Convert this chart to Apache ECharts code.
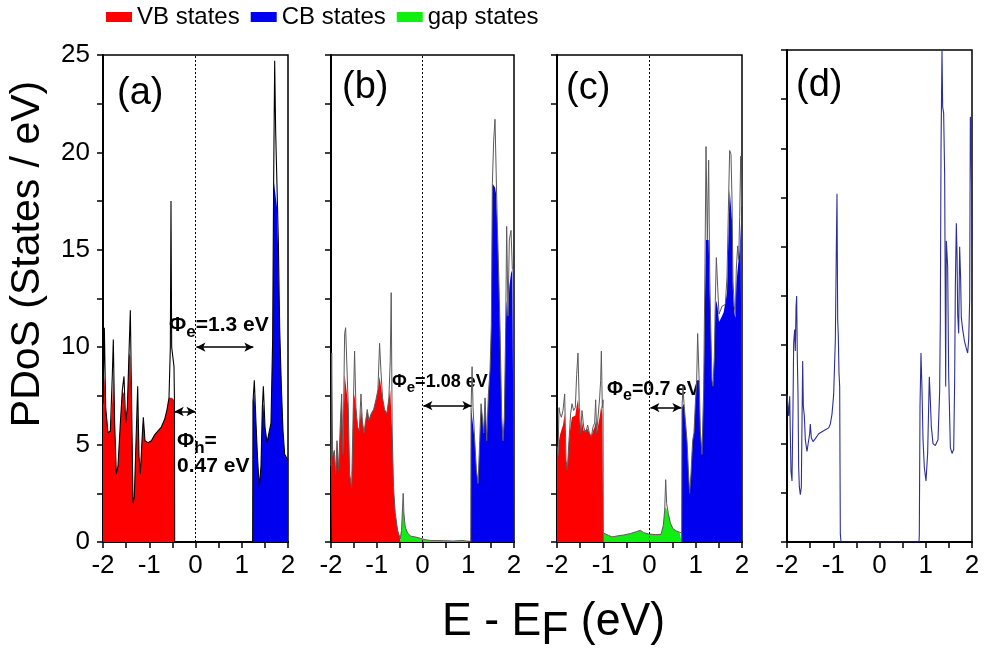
<!DOCTYPE html>
<html><head><meta charset="utf-8">
<script src="https://cdn.jsdelivr.net/npm/echarts@6/dist/echarts.min.js"></script>
<style>html,body{margin:0;padding:0;background:#fff}#c{width:984px;height:650px}</style>
</head><body><div id="c"></div>
<script>
// ---------- data (E in eV, PDoS in states/eV) ----------
const xTicks = [-2, -1, 0, 1, 2];
const yTicks = [0, 5, 10, 15, 20, 25];
const legendNames = ['VB states', 'CB states', 'gap states'];
const panelNames = ['(a)', '(b)', '(c)', '(d)'];

// panel (a)
const aVbE = [-2.000,-1.971,-1.942,-1.892,-1.841,-1.798,-1.777,-1.748,-1.712,-1.676,-1.625,-1.582,-1.546,-1.510,-1.474,-1.438,-1.409,-1.380,-1.351,-1.323,-1.286,-1.250,-1.222,-1.193,-1.157,-1.128,-1.092,-1.027,-0.955,-0.883,-0.811,-0.739,-0.667,-0.616,-0.573,-0.544,-0.530,-0.515,-0.490,-0.465,-0.455,-0.450];
const aVbTot = [7.1,11.0,6.9,5.6,5.7,8.6,10.4,6.1,3.5,3.9,6.1,7.8,8.5,6.1,6.9,9.7,11.9,6.9,2.0,2.3,5.2,8.0,4.4,3.5,5.2,6.4,5.2,5.1,5.2,5.5,5.7,5.9,6.3,6.8,7.4,10.0,17.5,10.0,10.0,9.0,7.3,0];
const aVbFill = [7.1,8.6,6.9,5.6,5.7,7.3,8.6,6.1,3.5,3.9,6.1,7.8,7.6,6.1,6.9,9.7,9.5,6.9,2.0,2.3,5.2,6.9,4.4,3.5,5.2,6.4,5.2,5.1,5.2,5.5,5.7,5.9,6.3,6.8,7.4,7.4,7.4,7.4,7.3,7.3,7.3,0];
const aCbE = [1.236,1.243,1.272,1.308,1.344,1.380,1.416,1.445,1.467,1.503,1.546,1.589,1.632,1.668,1.690,1.712,1.733,1.762,1.791,1.820,1.856,1.892,1.928,1.964,2.0];
const aCbTot = [0,7.2,8.3,6.1,4.2,2.8,3.9,6.9,8.0,5.9,5.1,5.2,6.1,10.4,18.6,24.7,21.1,21.1,15.5,11.0,8.0,5.7,4.5,4.4,4.2];
const aCbFill = [0,7.2,7.6,6.1,4.2,2.8,3.9,6.9,7.1,5.9,5.1,5.2,6.1,10.4,18.6,18.6,18.6,17.2,14.6,11.0,8.0,5.7,4.5,4.4,4.2];

// panel (b)
const bVbE = [-2.0,-1.985,-1.964,-1.927,-1.898,-1.869,-1.833,-1.796,-1.767,-1.738,-1.702,-1.680,-1.651,-1.622,-1.593,-1.549,-1.513,-1.484,-1.455,-1.418,-1.382,-1.345,-1.316,-1.280,-1.244,-1.207,-1.171,-1.120,-1.069,-1.018,-0.975,-0.938,-0.909,-0.873,-0.829,-0.778,-0.735,-0.705,-0.684,-0.662,-0.633,-0.596,-0.545,-0.487];
const bVbTot = [3.9,9.7,4.4,4.7,3.5,5.2,3.7,6.1,7.6,4.5,10.7,11.0,10.9,6.9,3.5,2.8,6.9,9.8,6.9,5.9,5.7,7.6,6.25,5.6,5.6,6.8,6.25,6.6,6.8,7.3,7.8,10.2,8.8,7.4,6.8,6.6,7.4,9.3,12.8,5.6,2.8,1.5,0.6,0.17];
const bVbFill = [3.9,6.9,4.4,4.7,3.5,5.2,3.7,6.1,7.6,4.5,8.6,8.6,7.6,6.9,3.5,2.8,6.9,7.6,6.9,5.9,5.7,6.9,6.25,5.6,5.6,6.8,6.25,6.6,6.8,7.3,7.8,8.5,8.5,7.4,6.8,6.6,7.4,7.8,7.8,5.6,2.8,1.5,0.6,0.17];
const bGapE = [-0.487,-0.458,-0.436,-0.422,-0.407,-0.378,-0.327,-0.255,-0.160,-0.051,0.058,0.167,0.458,0.676,0.858,0.967,1.04];
const bGapTot = [0.17,0.6,1.8,2.5,1.5,0.77,0.46,0.3,0.26,0.19,0.12,0.08,0.07,0.05,0.08,0.05,0.03];
const bGapFill = [0.17,0.6,1.8,1.8,1.5,0.77,0.46,0.3,0.26,0.19,0.12,0.08,0.07,0.05,0.08,0.05,0.03];
const bCbE = [1.055,1.062,1.084,1.105,1.142,1.178,1.215,1.251,1.280,1.309,1.338,1.367,1.404,1.440,1.476,1.505,1.527,1.556,1.585,1.607,1.636,1.665,1.695,1.731,1.760,1.789,1.818,1.840,1.869,1.898,1.935,1.964,2.0];
const bCbTot = [0,6.9,9.0,6.9,5.2,3.7,3.0,5.2,7.1,6.4,5.6,7.4,5.2,7.6,8.8,11.2,18.4,20.6,21.7,19.3,16.2,13.8,10.9,6.4,5.2,6.4,11.0,16.2,11.6,15.5,16.0,14.0,14.0];
const bCbFill = [0,6.9,6.9,6.9,5.2,3.7,3.0,5.2,7.1,6.4,5.6,7.4,5.2,7.6,8.8,11.2,18.4,18.4,18.2,17.9,16.2,13.8,10.9,6.4,5.2,6.4,11.0,12.4,11.6,13.1,13.8,14.0,14.0];

// panel (c)
const cVbE = [-2.0,-1.978,-1.957,-1.935,-1.906,-1.870,-1.834,-1.805,-1.777,-1.741,-1.705,-1.676,-1.640,-1.604,-1.575,-1.546,-1.517,-1.488,-1.459,-1.423,-1.380,-1.337,-1.301,-1.258,-1.222,-1.186,-1.164,-1.142,-1.106,-1.078,-1.056,-1.041,-1.020,-1.005,-0.998];
const cVbTot = [4.9,4.4,6.9,6.6,6.4,6.75,7.6,4.2,3.7,5.2,6.6,7.1,6.75,6.9,8.6,9.7,6.9,5.6,6.75,5.9,5.6,6.0,5.6,5.4,5.9,6.1,7.3,5.6,5.7,7.4,8.3,9.8,6.9,7.3,0];
const cVbFill = [4.9,4.4,5.2,5.5,5.6,6.0,6.6,4.2,3.7,5.2,6.0,6.4,6.4,6.5,7.0,7.3,6.5,5.6,6.2,5.7,5.6,5.8,5.6,5.4,5.7,5.9,6.2,5.6,5.7,6.4,6.8,7.0,6.5,6.5,0];
const cGapE = [-0.998,-0.955,-0.883,-0.811,-0.703,-0.559,-0.414,-0.285,-0.198,-0.126,-0.018,0.126,0.249,0.299,0.328,0.350,0.371,0.407,0.450,0.508,0.580,0.652,0.695];
const cGapTot = [0.46,0.51,0.34,0.26,0.31,0.36,0.43,0.53,0.6,0.48,0.41,0.38,0.39,0.86,1.63,3.2,1.97,1.46,0.98,0.68,0.57,0.5,0.46];
const cGapFill = [0.46,0.51,0.34,0.26,0.31,0.36,0.43,0.53,0.6,0.48,0.41,0.38,0.39,0.86,1.63,1.8,1.8,1.46,0.98,0.68,0.57,0.5,0.46];
const cCbE = [0.695,0.703,0.724,0.746,0.775,0.811,0.840,0.868,0.897,0.933,0.962,0.991,1.020,1.041,1.070,1.099,1.135,1.171,1.200,1.222,1.250,1.279,1.301,1.330,1.351,1.373,1.402,1.423,1.445,1.474,1.503,1.532,1.568,1.604,1.640,1.676,1.704,1.733,1.762,1.784,1.805,1.834,1.856,1.877,1.906,1.928,1.950,1.971,1.993,2.0];
const cCbTot = [0,6.9,8.0,7.1,6.25,5.2,3.7,2.5,3.5,5.2,5.6,7.1,8.3,10.7,8.6,5.7,4.5,7.8,14.3,20.3,15.5,19.6,13.8,10.4,8.3,8.0,9.5,12.4,14.6,13.1,11.7,11.6,12.1,12.2,12.2,13.6,16.9,20.1,19.9,17.6,13.4,12.1,11.7,14.0,15.2,14.5,16.7,19.8,17.2,17.2];
const cCbFill = [0,6.9,6.9,7.1,6.25,5.2,3.7,2.5,3.5,5.2,5.6,7.1,8.3,8.3,8.3,5.7,4.5,7.8,12.5,15.5,15.5,15.5,13.0,10.4,8.3,8.0,9.5,12.0,12.4,12.0,11.3,11.3,11.6,11.8,11.8,12.8,15.5,18.1,18.1,16.5,12.8,11.8,11.5,13.2,14.0,14.0,15.0,16.4,16.4,16.4];

// panel (d)
const dE = [-2.0,-1.986,-1.964,-1.942,-1.928,-1.914,-1.892,-1.870,-1.856,-1.834,-1.820,-1.805,-1.791,-1.777,-1.762,-1.748,-1.733,-1.712,-1.690,-1.676,-1.661,-1.647,-1.625,-1.604,-1.568,-1.532,-1.510,-1.496,-1.474,-1.438,-1.387,-1.315,-1.243,-1.171,-1.099,-1.063,-1.027,-0.991,-0.955,-0.933,-0.919,-0.904,-0.890,-0.876,-0.861,-0.847,-0.832,0.854,0.861,0.876,0.897,0.919,0.941,0.969,1.005,1.041,1.077,1.099,1.121,1.157,1.207,1.265,1.301,1.315,1.330,1.351,1.366,1.387,1.409,1.431,1.445,1.474,1.495,1.532,1.568,1.604,1.625,1.640,1.661,1.676,1.690,1.712,1.733,1.755,1.769,1.798,1.834,1.870,1.906,1.928,1.950,1.964,1.978,2.0];
const dV = [7.5,7.5,6.4,7.4,5.5,3.6,3.1,6.9,10.1,10.8,9.7,11.9,12.5,9.4,7.5,3.8,2.8,2.4,2.8,6.0,9.2,6.9,6.4,5.2,4.6,4.5,5.5,6.0,5.3,5.1,5.25,5.5,5.6,5.7,5.8,6.0,6.5,7.5,10.25,15.0,17.7,11.3,10.4,8.6,7.9,0.4,0,0,0.4,6.9,9.6,7.7,5.2,3.8,3.1,4.5,8.4,7.2,5.85,5.0,4.9,5.2,7.7,11.3,19.9,25,22.1,21.8,18.6,7.9,15.3,14.0,8.6,4.8,4.5,4.7,8.2,13.0,16.2,14.7,11.6,10.6,15.0,13.3,11.4,10.8,10.25,9.9,9.6,10.25,12.3,21.6,21.3,15.3];

// gap arrows: [E start, E end, PDoS level]
const arrowsA = [[0.02, 1.25, 10.0], [-0.45, 0.0, 6.7]];
const arrowsB = [[0.02, 1.07, 7.0]];
const arrowsC = [[0.02, 0.69, 6.9]];

// ---------- chart ----------
const FR = "'Liberation Sans',Arial,sans-serif";
const RED = '#ff0000', BLUE = '#0000f0', GREEN = '#11ee11';

function zip(e, v) { const n = Math.min(e.length, v.length), o = []; for (let i = 0; i < n; i++) o.push([e[i], v[i]]); return o; }
function fillS(name, color, i, E, V, ml) {
  const s = { type: 'line', name, xAxisIndex: i, yAxisIndex: i, data: zip(E, V), showSymbol: false, symbol: 'none',
    itemStyle: { color }, lineStyle: { width: 0, color }, areaStyle: { color, opacity: 1 }, z: 2, silent: true };
  if (ml) s.markLine = ml;
  return s;
}
function lineS(i, E, V, color, w) {
  return { type: 'line', xAxisIndex: i, yAxisIndex: i, data: zip(E, V), showSymbol: false, symbol: 'none',
    lineStyle: { color, width: w }, itemStyle: { color }, z: 3, silent: true };
}
function zeroLine() {
  return { silent: true, symbol: ['none', 'none'], label: { show: false }, animation: false,
    lineStyle: { color: '#000', type: [2, 2], width: 1 }, data: [{ xAxis: 0 }] };
}
function arrowLine(arr) {
  return { silent: true, symbol: ['arrow', 'arrow'], symbolSize: [7, 9], label: { show: false }, animation: false,
    lineStyle: { color: '#000', type: 'solid', width: 1.5 },
    data: arr.map(a => [{ coord: [a[0], a[2]] }, { coord: [a[1], a[2]] }]) };
}

const grids = [
  { left: 103, top: 55, width: 185, height: 487 },
  { left: 331, top: 55, width: 183, height: 487 },
  { left: 557, top: 55, width: 185, height: 487 },
  { left: 787, top: 50, width: 185, height: 492 }
].map(g => Object.assign({ show: true, borderColor: '#000', borderWidth: 1.5, backgroundColor: 'transparent' }, g));

const isInt = v => Math.abs(v - Math.round(v)) < 1e-6;
const xAxes = grids.map((g, i) => ({
  type: 'value', gridIndex: i, min: xTicks[0], max: xTicks[xTicks.length - 1], interval: 0.5,
  axisLine: { show: true, onZero: false, lineStyle: { color: '#000', width: 2 } },
  axisTick: { show: true, length: 6, lineStyle: { color: '#000', width: 1.5 } },
  splitLine: { show: false },
  axisLabel: { show: true, margin: 11, color: '#000', fontSize: 26, fontFamily: FR,
    formatter: v => (isInt(v) && xTicks.includes(Math.round(v))) ? String(Math.round(v)) : '' }
}));
const yAxes = grids.map((g, i) => ({
  type: 'value', gridIndex: i, min: yTicks[0], max: yTicks[yTicks.length - 1], interval: 2.5,
  axisLine: { show: true, onZero: false, lineStyle: { color: '#000', width: 2 } },
  axisTick: { show: true, length: 6, lineStyle: { color: '#000', width: 1.5 } },
  splitLine: { show: false },
  axisLabel: { show: i === 0, margin: 13, color: '#000', fontSize: 26, fontFamily: FR,
    formatter: v => (yTicks.includes(v)) ? String(v) : '' }
}));

const series = [
  fillS('VB states', RED, 0, aVbE, aVbFill, zeroLine()),
  fillS('CB states', BLUE, 0, aCbE, aCbFill, arrowLine(arrowsA)),
  lineS(0, aVbE, aVbTot, '#000', 1.1),
  lineS(0, aCbE, aCbTot, '#000', 1.1),

  fillS('VB states', RED, 1, bVbE, bVbFill, zeroLine()),
  fillS('gap states', GREEN, 1, bGapE, bGapFill),
  fillS('CB states', BLUE, 1, bCbE, bCbFill, arrowLine(arrowsB)),
  lineS(1, bVbE, bVbTot, '#5a5a5a', 1),
  lineS(1, bGapE, bGapTot, '#5a5a5a', 1),
  lineS(1, bCbE, bCbTot, '#5a5a5a', 1),

  fillS('VB states', RED, 2, cVbE, cVbFill, zeroLine()),
  fillS('gap states', GREEN, 2, cGapE, cGapFill),
  fillS('CB states', BLUE, 2, cCbE, cCbFill, arrowLine(arrowsC)),
  lineS(2, cVbE, cVbTot, '#5a5a5a', 1),
  lineS(2, cGapE, cGapTot, '#5a5a5a', 1),
  lineS(2, cCbE, cCbTot, '#5a5a5a', 1),

  lineS(3, dE, dV, '#2e2e98', 1.1)
];

// text helpers
const mctx = document.createElement('canvas').getContext('2d');
function seq(x, yb, parts, sx) {
  sx = sx || 1;
  let cx = x; const els = [];
  for (const p of parts) {
    const [t, dy, size, bold, fam] = p;
    const font = (bold ? 'bold ' : '') + size + 'px ' + fam;
    mctx.font = font;
    const w = mctx.measureText(t).width * sx;
    els.push({ type: 'text', x: cx, y: yb + dy, scaleX: sx, silent: true,
      style: { text: t, font, fill: '#000', align: 'left', verticalAlign: 'bottom', textAlign: 'left', textVerticalAlign: 'bottom' } });
    cx += w;
  }
  return els;
}

const graphics = [].concat(
  seq(117, 113, [[panelNames[0], 0, 38, false, FR]]),
  seq(342, 107, [[panelNames[1], 0, 38, false, FR]]),
  seq(566, 108, [[panelNames[2], 0, 38, false, FR]]),
  seq(796, 105, [[panelNames[3], 0, 38, false, FR]]),
  seq(169, 336, [['Φ', 0, 21, true, FR], ['e', 5, 17, true, FR], ['=1.3 eV', 0, 21, true, FR]]),
  seq(177, 452, [['Φ', 0, 21, true, FR], ['h', 5, 17, true, FR], ['=', 0, 21, true, FR]]),
  seq(177, 477, [['0.47 eV', 0, 21, true, FR]]),
  seq(392, 391, [['Φ', 0, 18, true, FR], ['e', 4, 15, true, FR], ['=1.08 eV', 0, 18, true, FR]]),
  seq(607, 400, [['Φ', 0, 19.5, true, FR], ['e', 4, 16, true, FR], ['=0.7 eV', 0, 19.5, true, FR]]),
  seq(442, 645, [['E - E', 0, 46, false, FR], ['F', 9, 46, false, FR], [' (eV)', 0, 46, false, FR]], 0.97),
  [{ type: 'text', x: 28, y: 254, rotation: Math.PI / 2, silent: true,
     style: { text: 'PDoS (States / eV)', font: '41px ' + FR, fill: '#000', align: 'center', verticalAlign: 'middle', textAlign: 'center', textVerticalAlign: 'middle' } }]
);

const chart = echarts.init(document.getElementById('c'), null, { renderer: 'canvas' });
chart.setOption({
  animation: false,
  backgroundColor: '#fff',
  legend: { data: legendNames, left: 106, top: 5, icon: 'rect', itemWidth: 26, itemHeight: 10, itemGap: 11, padding: 0,
    selectedMode: false, textStyle: { fontSize: 24, fontFamily: FR, color: '#000', padding: [0, 0, 0, 0] } },
  grid: grids, xAxis: xAxes, yAxis: yAxes, series, graphic: graphics
});
</script></body></html>
